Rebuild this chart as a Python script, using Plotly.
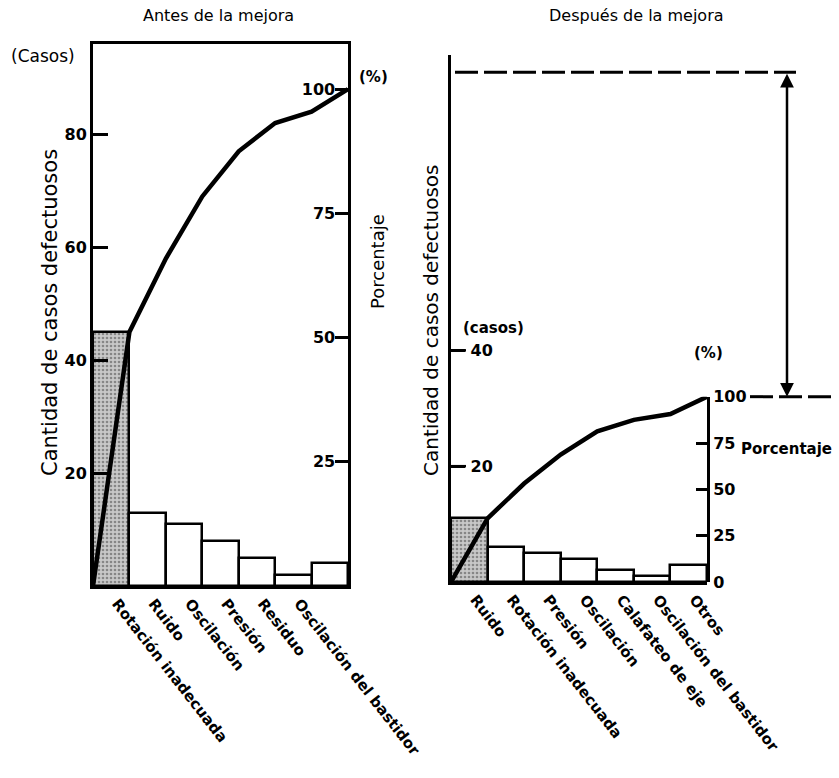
import plotly.graph_objects as go

# Defect counts before and after the improvement (Pareto order)
before_categories = ["Rotación inadecuada", "Ruido", "Oscilación", "Presión",
                     "Residuo", "Oscilación del bastidor", "Otros"]
before_counts = [45, 13, 11, 8, 5, 2, 4]

after_categories = ["Ruido", "Rotación inadecuada", "Presión", "Oscilación",
                    "Calafateo de eje", "Oscilación del bastidor", "Otros"]
after_counts = [11, 6, 5, 4, 2, 1, 3]

before_count_ticks = [20, 40, 60, 80]
after_count_ticks = [20, 40]
before_pct_ticks = [25, 50, 75, 100]
after_pct_ticks = [0, 25, 50, 75, 100]

W, H = 839, 778
FONT = "DejaVu Sans"


def px(x):
    return x / W


def py(y):
    return 1 - y / H


def cumulative_pct(counts):
    total = sum(counts)
    out, run = [0.0], 0
    for c in counts:
        run += c
        out.append(100.0 * run / total)
    return out


before_total = sum(before_counts)
after_total = sum(after_counts)
before_ymax = 96
after_ymax = 91

# plot-area boxes
L_dom_x = [px(93), px(348)]
L_dom_y = [py(586), py(44)]
R_dom_x = [px(451), px(707)]
R_dom_y = [py(582), py(55)]
# percentage axis of the right chart spans 0..100 % = 0..total cases
R_pct_top = R_dom_y[0] + (R_dom_y[1] - R_dom_y[0]) * after_total / after_ymax

n = len(before_counts)
idx = list(range(n))
edges = [i - 0.5 for i in range(n + 1)]

fig = go.Figure()


def bar_trace(counts, xa, ya):
    colors = ["#c8c8c8"] + ["white"] * (len(counts) - 1)
    shapes = ["."] + [""] * (len(counts) - 1)
    return go.Bar(
        x=idx, y=counts, width=1, xaxis=xa, yaxis=ya,
        marker=dict(color=colors, line=dict(color="black", width=2.5),
                    pattern=dict(shape=shapes, fgcolor="#222", size=4,
                                 solidity=0.35)),
        showlegend=False, hoverinfo="y")


fig.add_trace(bar_trace(before_counts, "x", "y"))
fig.add_trace(go.Scatter(x=edges, y=cumulative_pct(before_counts), xaxis="x",
                         yaxis="y2", mode="lines",
                         line=dict(color="black", width=4.5),
                         showlegend=False))
fig.add_trace(bar_trace(after_counts, "x2", "y3"))
fig.add_trace(go.Scatter(x=edges, y=cumulative_pct(after_counts), xaxis="x2",
                         yaxis="y4", mode="lines",
                         line=dict(color="black", width=4.5),
                         showlegend=False))

tickfont = dict(family=FONT, size=16, color="black", weight="bold")
catfont = dict(family=FONT, size=15, color="black", weight="bold")
common_y = dict(showgrid=False, zeroline=False, showline=True, linewidth=3,
                linecolor="black", ticks="inside", tickwidth=2.5,
                tickcolor="black", tickfont=tickfont, fixedrange=True,
                automargin=False)
common_x = dict(showgrid=False, zeroline=False, showline=True, linewidth=3,
                linecolor="black", range=[-0.5, n - 0.5], tickvals=idx,
                tickangle=52, tickfont=catfont, ticks="", fixedrange=True,
                automargin=False, ticklabelshift=6)

fig.update_layout(
    width=W, height=H,
    margin=dict(l=0, r=0, t=0, b=0, pad=0, autoexpand=False),
    paper_bgcolor="white", plot_bgcolor="rgba(0,0,0,0)",
    bargap=0,
    xaxis=dict(domain=L_dom_x, anchor="y", mirror=True,
               ticktext=before_categories, **common_x),
    yaxis=dict(domain=L_dom_y, anchor="x", range=[0, before_ymax],
               tickvals=before_count_ticks, ticklen=15, **common_y),
    yaxis2=dict(overlaying="y", anchor="x", side="right",
                range=[0, 100.0 * before_ymax / before_total],
                tickvals=before_pct_ticks, ticklen=13,
                ticklabelposition="inside", **common_y),
    xaxis2=dict(domain=R_dom_x, anchor="y3", ticktext=after_categories,
                **common_x),
    # count labels sit just right of their inside tick marks
    yaxis3=dict(domain=R_dom_y, anchor="x2", range=[0, after_ymax],
                tickvals=after_count_ticks, ticklen=14,
                ticklabelstandoff=-48, **common_y),
    yaxis4=dict(domain=[R_dom_y[0], R_pct_top], anchor="x2", side="right",
                range=[0, 100], tickvals=after_pct_ticks, ticklen=11,
                **common_y),
)

# tick marks of the right chart's count axis, pointing into the plot
for v in after_count_ticks:
    fig.add_shape(type="line", xref="paper", yref="y3", layer="above",
                  x0=px(451), x1=px(466), y0=v, y1=v,
                  line=dict(color="black", width=2.5))

# reference levels: total before (upper) and total after (lower)
fig.add_shape(type="line", xref="paper", yref="y3",
              x0=px(455), x1=px(796), y0=before_total, y1=before_total,
              line=dict(color="black", width=3, dash="23px,6px"))
fig.add_shape(type="line", xref="paper", yref="y3",
              x0=px(750), x1=px(834), y0=after_total, y1=after_total,
              line=dict(color="black", width=3, dash="23px,6px"))
arrow_x = (787 - 451) / (707 - 451)
fig.add_annotation(x=arrow_x, y=after_total, xref="x2 domain", yref="y3",
                   ax=arrow_x, ay=before_total, axref="x2 domain", ayref="y3",
                   text="", showarrow=True, arrowside="end+start",
                   arrowhead=2, arrowsize=1.1, arrowwidth=2.5,
                   arrowcolor="black", standoff=0, startstandoff=0)


def label(text, x, y, size=15, bold=False, angle=0, xanchor="center"):
    fig.add_annotation(x=px(x), y=py(y), xref="paper", yref="paper",
                       text=text, showarrow=False, textangle=angle,
                       xanchor=xanchor, yanchor="middle",
                       font=dict(family=FONT, size=size, color="black",
                                 weight="bold" if bold else "normal"))


label("Antes de la mejora", 218, 15, size=16)
label("Después de la mejora", 636, 15, size=16)
label("(Casos)", 43, 56, size=17)
label("(%)", 373, 77, size=15, bold=True)
label("Cantidad de casos defectuosos", 50, 313, size=21, angle=-90)
label("Porcentaje", 377, 262, size=18, angle=-90)
label("Cantidad de casos defectuosos", 431, 320, size=20, angle=-90)
label("(casos)", 493, 328, size=15, bold=True)
label("(%)", 708, 353, size=15, bold=True)
label("Porcentaje", 786, 449, size=15, bold=True)

fig.write_html("out.html")
